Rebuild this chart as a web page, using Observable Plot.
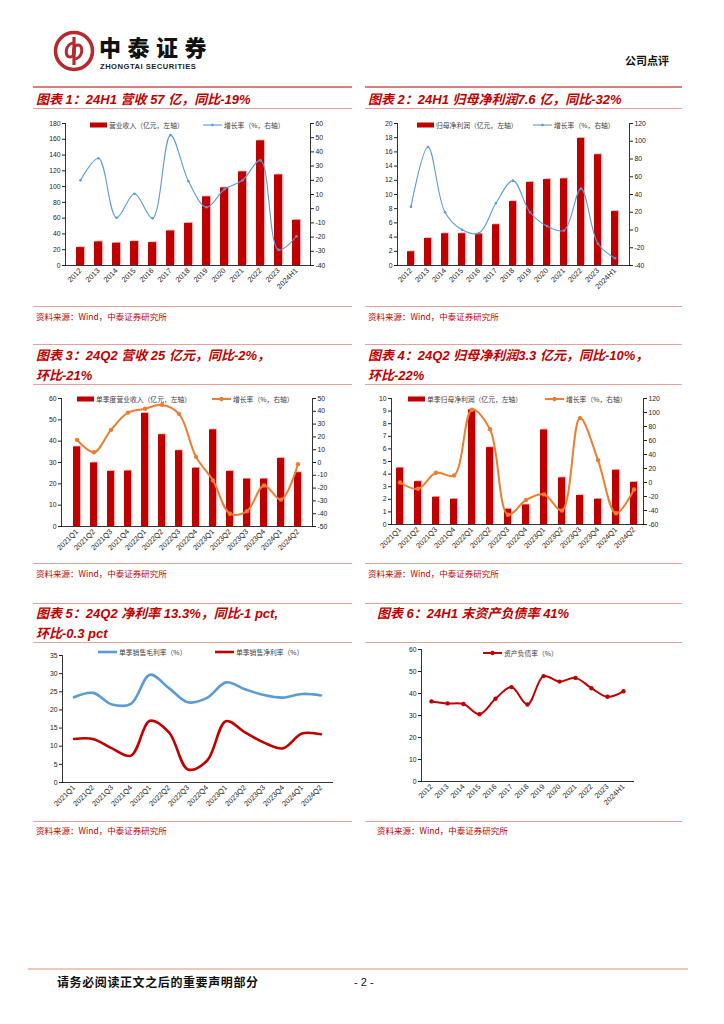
<!DOCTYPE html>
<html><head><meta charset="utf-8">
<script src="https://cdn.jsdelivr.net/npm/d3@7"></script>
<script src="https://cdn.jsdelivr.net/npm/@observablehq/plot@0.6"></script>
<style>
body{margin:0;width:724px;height:1024px;position:relative;background:#fff;font-family:"Noto Sans CJK SC",sans-serif;overflow:hidden}
.abs{position:absolute}
.title{position:absolute;color:#c00000;font-weight:bold;font-style:italic;font-size:13px;line-height:20px;white-space:nowrap;font-family:"Liberation Sans","Noto Sans CJK SC",sans-serif}
.hr{position:absolute;height:1px;background:#e3a39c}
.src{position:absolute;color:#c00000;font-size:8.5px;line-height:10px;white-space:nowrap}
.leg{position:absolute;font-size:6.8px;color:#404040;display:flex;align-items:center;white-space:nowrap;line-height:8px}
.leg svg{margin-right:2px}
</style></head><body>
<script>
// ---------- data ----------
const years = ["2012","2013","2014","2015","2016","2017","2018","2019","2020","2021","2022","2023","2024H1"];
const revenue = [22.7,29.9,28.2,30.3,29,43.7,53.4,87,98.4,118.6,158,114.8,57.2];
const revenueYoY = [20,35.5,-6.4,10.5,-6.8,51.8,19.3,1,13.7,20,34,-29,-19.4];
const profit = [1.93,3.8,4.47,4.47,4.4,5.74,9.0,11.7,12.1,12.2,17.9,15.6,7.6];
const profitYoY = [26.3,93.6,20,0.3,-3.5,30.4,55.6,20,4.4,-0.5,46.6,-15.5,-31.7];
const quarters = ["2021Q1","2021Q2","2021Q3","2021Q4","2022Q1","2022Q2","2022Q3","2022Q4","2023Q1","2023Q2","2023Q3","2023Q4","2024Q1","2024Q2"];
const qRevenue = [37.3,29.8,25.8,26,53,43,35.5,27.3,45.3,25.8,22.2,22.2,31.9,25.2];
const qRevenueYoY = [17.7,8,25.5,39,42,45,38,4.4,-14,-40,-38,-18,-29,-1.3];
const qProfit = [4.47,3.4,2.16,2.0,9.1,6.1,1.2,1.55,7.5,3.7,2.3,2.0,4.3,3.34];
const qProfitYoY = [0,-9,14,10,104,76,-46,-25,-17,-40,92,32,-44,-10];
const grossMargin = [23.5,24.7,21.5,21.7,29.7,26,22.1,23.3,27.6,25.7,24.1,23.4,24.4,24.0];
const netMargin = [12,12,9.4,7.4,17,13.8,3.6,6,16.9,13.8,11,9.4,13.5,13.3];
const debtRatio = [36.4,35.5,35.2,30.6,37.6,42.9,35,47.9,45.4,47.1,42.4,38.5,41];

const RED = "#c00000", BLUE = "#5b9bd5", ORANGE = "#ed7d31";
const baseStyle = {fontSize:"6.8px", fontFamily:"'Liberation Sans', Arial, sans-serif", color:"#222", background:"transparent", overflow:"visible"};

function put(node, left, top){ node.style.position="absolute"; node.style.left=left+"px"; node.style.top=top+"px"; document.body.appendChild(node); return node; }
function div(cls, html, left, top, extra){ const d=document.createElement("div"); d.className=cls; d.innerHTML=html; d.style.left=left+"px"; d.style.top=top+"px"; if(extra) Object.assign(d.style, extra); document.body.appendChild(d); return d; }

function frameMarks(sides){ return sides.map(a => Plot.frame({anchor:a, stroke:"#000", strokeWidth:0.8})); }
const xAxis = () => Plot.axisX({tickRotate:-45, tickSize:0, tickPadding:4, fontSize:7.4, label:null});

function dualChart(o){
  const data = o.cats.map((c,i)=>({c, v:o.bars[i], g:o.line[i]}));
  const [l0,l1] = o.left, [r0,r1] = o.right;
  const f = v => (v - r0)/(r1 - r0)*(l1 - l0) + l0;
  const inv = t => Math.round((t - l0)/(l1 - l0)*(r1 - r0) + r0);
  const p = o.pad;
  return Plot.plot({
    width:o.width, height:o.height,
    marginLeft:o.m[0], marginRight:o.m[1], marginTop:o.m[2], marginBottom:o.m[3],
    style: baseStyle,
    x:{type:"band", domain:o.cats, paddingInner:p, paddingOuter:p/2, label:null},
    y:{domain:o.left, label:null},
    marks:[
      Plot.barY(data,{x:"c", y:"v", fill:"#eeb0b0", dx:1.2, dy:-0.8}),
      Plot.barY(data,{x:"c", y:"v", fill:RED}),
      Plot.line(data,{x:"c", y:d=>f(d.g), stroke:o.lineColor, strokeWidth:o.lw, curve:"catmull-rom"}),
      Plot.dot(data,{x:"c", y:d=>f(d.g), fill:o.lineColor, r:o.r}),
      Plot.axisY(o.leftTicks,{anchor:"left", tickSize:3, tickPadding:2, label:null}),
      Plot.axisY(o.rightTicks.map(f),{anchor:"right", tickSize:3, tickPadding:2, tickFormat:inv, label:null}),
      xAxis(),
      ...frameMarks(["left","right","bottom"])
    ]
  });
}

function lineChart(o){
  const series = o.series.flatMap(s => o.cats.map((c,i)=>({c, v:s.values[i], s:s.name})));
  const marks = [];
  o.series.forEach(s=>{
    const d = series.filter(e=>e.s===s.name);
    marks.push(Plot.line(d,{x:"c", y:"v", stroke:s.color, strokeWidth:s.lw, curve:"catmull-rom"}));
    if (s.r) marks.push(Plot.dot(d,{x:"c", y:"v", fill:s.color, r:s.r}));
  });
  return Plot.plot({
    width:o.width, height:o.height,
    marginLeft:o.m[0], marginRight:o.m[1], marginTop:o.m[2], marginBottom:o.m[3],
    style: baseStyle,
    x:{type:"band", domain:o.cats, padding:0, label:null},
    y:{domain:o.left, label:null},
    marks:[
      ...marks,
      Plot.axisY(o.leftTicks,{anchor:"left", tickSize:3, tickPadding:2, label:null}),
      xAxis(),
      ...frameMarks(["left","bottom"])
    ]
  });
}

function barSwatch(){ return `<svg width="17" height="6"><rect x="0" y="0.5" width="17" height="5" fill="${RED}"/></svg>`; }
function lineSwatch(color, lw, r){ return `<svg width="19" height="6"><line x1="0" x2="19" y1="3" y2="3" stroke="${color}" stroke-width="${lw}"/>${r?`<circle cx="9.5" cy="3" r="${r}" fill="${color}"/>`:""}</svg>`; }

// ---------- header ----------
const logo = document.createElementNS("http://www.w3.org/2000/svg","svg");
logo.setAttribute("width","42"); logo.setAttribute("height","42");
logo.innerHTML = `<circle cx="21" cy="21" r="18.5" fill="none" stroke="#b52a2e" stroke-width="3.6"/>
<path d="M21 7 V35" stroke="#b52a2e" stroke-width="3.2"/>
<path d="M21 13 C12 13 11 27 17 27 C22 27 22 19 21 17" fill="none" stroke="#b52a2e" stroke-width="3"/>
<path d="M21 29 C30 29 31 15 25 15 C20 15 20 23 21 25" fill="none" stroke="#b52a2e" stroke-width="3"/>`;
put(logo, 53, 30);
div("abs","中泰证券",99,33.5,{fontSize:"22px",fontWeight:"900",letterSpacing:"6.5px",color:"#111",lineHeight:"24px",fontFamily:"'Noto Sans CJK SC',sans-serif"});
div("abs","ZHONGTAI SECURITIES",100,62.5,{fontSize:"7.6px",fontWeight:"bold",letterSpacing:"0.5px",color:"#222",lineHeight:"8px",fontFamily:"'Liberation Sans',Arial,sans-serif"});
div("abs","公司点评",625,53,{fontSize:"11px",fontWeight:"bold",color:"#111",lineHeight:"14px"});
div("hr","",33,86,{width:"319px",height:"1.5px",background:"#d9807a"});
div("hr","",365,86,{width:"317px",height:"1.5px",background:"#d9807a"});

// ---------- row 1 ----------
div("title","图表 1：24H1 营收 57 亿，同比-19%",36,90);
div("title","图表 2：24H1 归母净利润7.6 亿，同比-32%",368,90);
div("hr","",33,108,{width:"319px"}); div("hr","",365,108,{width:"317px"});
put(dualChart({cats:years,bars:revenue,line:revenueYoY,left:[0,180],right:[-40,60],
  leftTicks:d3.range(0,181,20),rightTicks:d3.range(-40,61,10),width:320,height:195,m:[32,43,11,42],
  pad:0.57,lineColor:BLUE,lw:1.1,r:1.3}),33,112);
put(dualChart({cats:years,bars:profit,line:profitYoY,left:[0,20],right:[-40,120],
  leftTicks:d3.range(0,21,2),rightTicks:d3.range(-40,121,20),width:317,height:195,m:[32,53,11,42],
  pad:0.57,lineColor:BLUE,lw:1.1,r:1.3}),365,112);
div("leg",barSwatch()+"营业收入（亿元，左轴）",90,121);
div("leg",lineSwatch(BLUE,1.1,1.3)+"增长率（%，右轴）",203,121);
div("leg",barSwatch()+"归母净利润（亿元，左轴）",417,121);
div("leg",lineSwatch(BLUE,1.1,1.3)+"增长率（%，右轴）",533,121);
div("hr","",33,306,{width:"319px"}); div("hr","",365,306,{width:"317px"});
div("src","资料来源：Wind，中泰证券研究所",36,311);
div("src","资料来源：Wind，中泰证券研究所",368,311);

// ---------- row 2 ----------
div("hr","",33,344,{width:"319px"}); div("hr","",365,344,{width:"317px"});
div("title","图表 3：24Q2 营收 25 亿元，同比-2%，<br>环比-21%",36,346);
div("title","图表 4：24Q2 归母净利润3.3 亿元，同比-10%，<br>环比-22%",368,346);
div("hr","",33,384,{width:"319px"}); div("hr","",365,384,{width:"317px"});
put(dualChart({cats:quarters,bars:qRevenue,line:qRevenueYoY,left:[0,60],right:[-50,50],
  leftTicks:d3.range(0,61,10),rightTicks:d3.range(-50,51,10),width:320,height:175,m:[28,41,10,37],
  pad:0.6,lineColor:ORANGE,lw:2,r:2.2}),33,388);
put(dualChart({cats:quarters,bars:qProfit,line:qProfitYoY,left:[0,10],right:[-60,120],
  leftTicks:d3.range(0,11,1),rightTicks:d3.range(-60,121,20),width:317,height:175,m:[26,39,10,39],
  pad:0.6,lineColor:ORANGE,lw:2,r:2.2}),365,388);
div("leg",barSwatch()+"单季度营业收入（亿元，左轴）",77,395);
div("leg",lineSwatch(ORANGE,2,2.2)+"增长率（%，右轴）",212,395);
div("leg",barSwatch()+"单季归母净利润（亿元，左轴）",408,395);
div("leg",lineSwatch(ORANGE,2,2.2)+"增长率（%，右轴）",545,395);
div("hr","",33,563,{width:"319px"}); div("hr","",365,563,{width:"317px"});
div("src","资料来源：Wind，中泰证券研究所",36,568);
div("src","资料来源：Wind，中泰证券研究所",368,568);

// ---------- row 3 ----------
div("hr","",33,603,{width:"319px"}); div("hr","",365,603,{width:"317px"});
div("title","图表 5：24Q2 净利率 13.3%，同比-1 pct,<br>环比-0.3 pct",36,604);
div("title","图表 6：24H1 末资产负债率 41%",377,604);
div("hr","",33,642,{width:"319px"}); div("hr","",365,642,{width:"317px"});
put(lineChart({cats:quarters,left:[0,35],leftTicks:d3.range(0,36,5),width:320,height:175,m:[29,21,10,38],
  series:[{name:"gross",values:grossMargin,color:BLUE,lw:2.6},{name:"net",values:netMargin,color:RED,lw:2.6}]}),33,645);
put(lineChart({cats:years,left:[0,60],leftTicks:d3.range(0,61,10),width:317,height:180,m:[56,49,9,39],
  series:[{name:"debt",values:debtRatio,color:RED,lw:2,r:2.2}]}),365,640);
div("leg",lineSwatch(BLUE,2.6,0)+"单季销售毛利率（%）",98,648);
div("leg",lineSwatch(RED,2.6,0)+"单季销售净利率（%）",215,648);
div("leg",lineSwatch(RED,2,2.2)+"资产负债率（%）",483,649);
div("hr","",33,821,{width:"319px"}); div("hr","",365,821,{width:"317px"});
div("src","资料来源：Wind，中泰证券研究所",36,825);
div("src","资料来源：Wind，中泰证券研究所",377,825);

// ---------- footer ----------
div("hr","",28,968,{width:"660px",height:"2px",background:"#f0c8b6"});
div("abs","请务必阅读正文之后的重要声明部分",57,975,{fontSize:"12px",fontWeight:"bold",color:"#111",letterSpacing:"0.6px",lineHeight:"14px"});
div("abs","- 2 -",354,975,{fontSize:"11px",color:"#111",lineHeight:"14px",fontFamily:"'Liberation Sans',Arial,sans-serif"});
</script>
</body></html>
